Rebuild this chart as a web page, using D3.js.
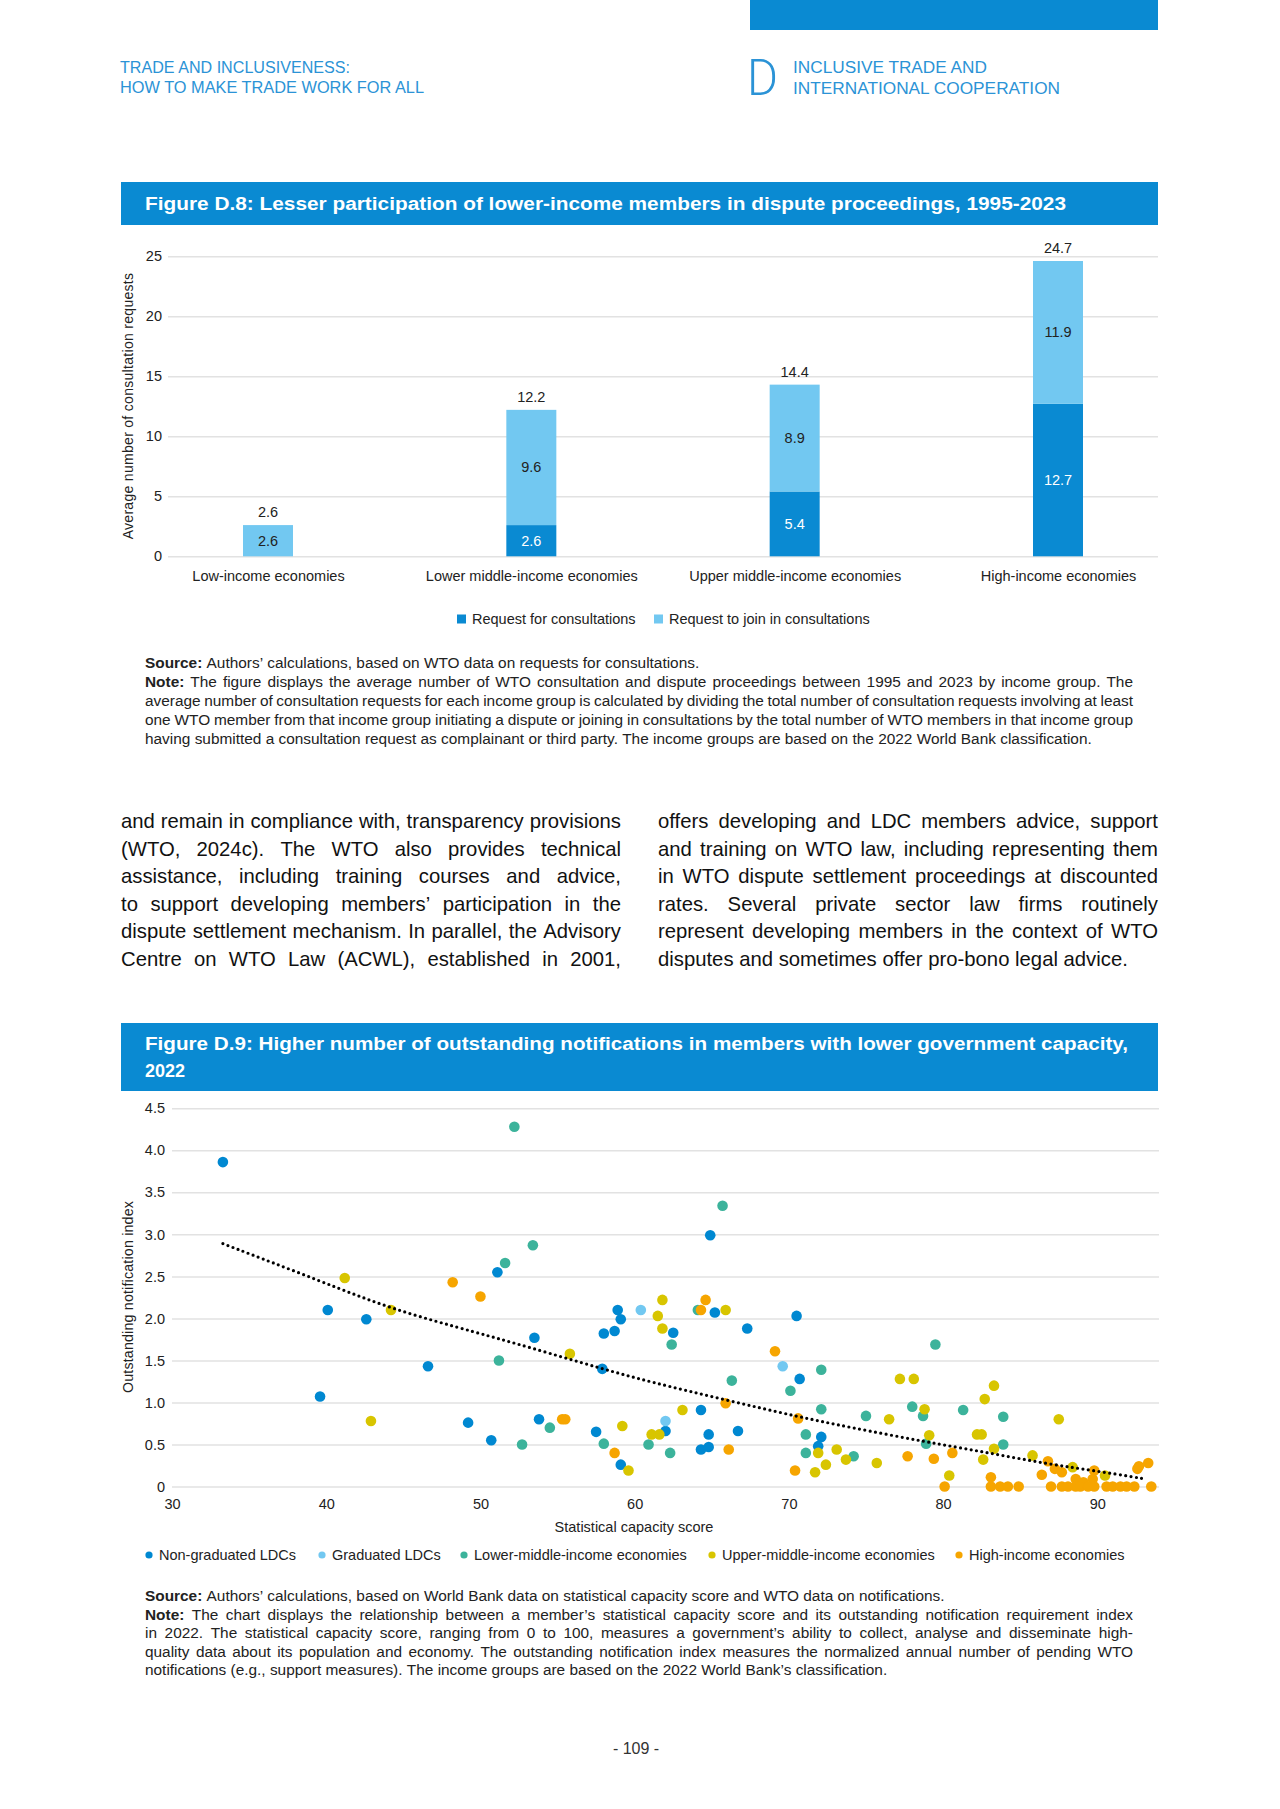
<!DOCTYPE html>
<html><head><meta charset="utf-8">
<script src="https://cdn.jsdelivr.net/npm/d3@7"></script>
<style>
html,body{margin:0;padding:0;background:#fff;}
svg{display:block;font-family:"Liberation Sans",Arial,Helvetica,sans-serif;}
</style></head><body>
<svg id="page" width="1280" height="1809"></svg>
<script>
// ---------------- DATA ----------------
const barCategories = ["Low-income economies","Lower middle-income economies","Upper middle-income economies","High-income economies"];
const barSeriesNames = ["Request for consultations","Request to join in consultations"];
const requestForConsultations = [0, 2.6, 5.4, 12.7];
const requestToJoin = [2.6, 9.6, 8.9, 11.9];
const barTotals = [2.6, 12.2, 14.4, 24.7];
const barYTicks = [0, 5, 10, 15, 20, 25];

const scatterSeriesNames = ["Non-graduated LDCs","Graduated LDCs","Lower-middle-income economies","Upper-middle-income economies","High-income economies"];
const nonGraduatedLDCs = [[33.3,3.86],[51.1,2.55],[40.1,2.10],[42.6,1.99],[53.5,1.77],[58.0,1.82],[58.7,1.85],[58.9,2.10],[59.1,1.99],[46.6,1.43],[57.9,1.40],[39.6,1.07],[49.2,0.76],[53.8,0.80],[50.7,0.55],[57.5,0.65],[59.1,0.26],[64.9,2.99],[62.5,1.83],[65.2,2.07],[67.3,1.88],[70.5,2.03],[70.7,1.28],[64.3,0.91],[62.0,0.66],[64.8,0.62],[64.3,0.44],[64.8,0.47],[66.7,0.66],[72.1,0.59],[71.9,0.48]];
const graduatedLDCs = [[60.4,2.10],[69.6,1.43],[62.0,0.78]];
const lowerMiddleIncome = [[52.2,4.28],[53.4,2.87],[51.6,2.66],[51.2,1.50],[54.5,0.70],[52.7,0.50],[58.0,0.51],[60.9,0.50],[65.7,3.34],[62.4,1.69],[64.1,2.10],[70.1,1.14],[72.1,1.39],[66.3,1.26],[62.3,0.40],[72.1,0.92],[71.1,0.62],[71.1,0.40],[74.2,0.36],[75.0,0.84],[78.0,0.95],[78.7,0.84],[78.9,0.51],[79.5,1.69],[81.3,0.91],[83.9,0.50],[83.9,0.83]];
const upperMiddleIncome = [[41.2,2.48],[44.2,2.10],[55.8,1.58],[42.9,0.78],[59.6,0.19],[59.2,0.72],[61.1,0.62],[61.6,0.62],[61.8,2.22],[61.5,2.03],[61.8,1.88],[65.9,2.10],[63.1,0.91],[71.9,0.40],[71.7,0.17],[72.4,0.26],[73.1,0.44],[73.7,0.32],[75.7,0.28],[76.5,0.80],[77.2,1.28],[78.1,1.28],[78.8,0.92],[79.1,0.61],[80.4,0.13],[82.2,0.62],[82.5,0.62],[82.7,1.04],[83.3,1.20],[82.6,0.32],[83.3,0.45],[85.8,0.37],[87.5,0.80],[88.4,0.23],[90.5,0.13]];
const highIncome = [[48.2,2.43],[50.0,2.26],[55.3,0.80],[55.5,0.80],[58.7,0.40],[64.6,2.22],[64.3,2.10],[69.1,1.61],[65.9,0.99],[66.1,0.44],[70.6,0.81],[70.4,0.19],[77.7,0.36],[79.4,0.33],[80.1,0.00],[80.6,0.40],[83.1,0.11],[83.1,0.00],[83.7,0.00],[84.2,0.00],[84.9,0.00],[86.4,0.14],[86.8,0.30],[87.25,0.21],[87.7,0.17],[88.6,0.09],[89.8,0.19],[89.7,0.09],[89.1,0.05],[87.0,0.00],[87.7,0.00],[88.1,0.00],[88.6,0.00],[88.9,0.00],[89.4,0.00],[89.8,0.00],[90.6,0.00],[91.0,0.00],[91.5,0.00],[91.9,0.00],[92.4,0.00],[92.6,0.21],[92.7,0.24],[93.3,0.28],[93.5,0.00]];
const trendLine = [[33.3,2.89],[39.7,2.44],[44.2,2.11],[50.0,1.82],[53.1,1.66],[57.9,1.40],[61.1,1.24],[65.9,1.03],[70.6,0.83],[73.8,0.71],[78.9,0.53],[82.7,0.41],[86.7,0.27],[90.5,0.17],[93.1,0.09]];
const scatterXTicks = [30, 40, 50, 60, 70, 80, 90];
const scatterYTicks = [0, 0.5, 1.0, 1.5, 2.0, 2.5, 3.0, 3.5, 4.0, 4.5];
const scatterYTickLabels = ["0","0.5","1.0","1.5","2.0","2.5","3.0","3.5","4.0","4.5"];

// ---------------- STYLE ----------------
const BLUE = "#0a8ad2", LIGHT = "#72c8f1", TEXT = "#222";
const scatterColors = ["#0088d1","#72c8f1","#3cb39b","#d8c500","#f6a500"];
const gridColor = "#e2e2e2";
const FS = 14.5;

const svg = d3.select("#page");

// ---------------- helpers ----------------
function drawBlock(lines, just, x0, x1, y0, lh, size, color) {
  let fs = size;
  const t = svg.append("text").attr("fill", color);
  function build() {
    t.selectAll("*").remove();
    t.attr("font-size", fs);
    const rows = lines.map((line, i) => line.split(" ").map((w, j) => {
      const bold = j === 0 && (w === "Source:" || w === "Note:");
      return t.append("tspan").attr("y", y0 + i * lh).attr("font-weight", bold ? "bold" : null).text(w);
    }));
    const tmp = svg.append("text").attr("font-size", fs).text("a a");
    const tmp2 = svg.append("text").attr("font-size", fs).text("aa");
    const sp = tmp.node().getComputedTextLength() - tmp2.node().getComputedTextLength();
    tmp.remove(); tmp2.remove();
    return {rows, sp};
  }
  let b = build();
  let ratio = 1;
  b.rows.forEach((spans, i) => {
    if (!just[i]) return;
    const sum = d3.sum(spans, s => s.node().getComputedTextLength());
    const need = sum + b.sp * 0.8 * (spans.length - 1);
    ratio = Math.min(ratio, (x1 - x0) / need);
  });
  if (ratio < 1) { fs = fs * ratio; b = build(); }
  b.rows.forEach((spans, i) => {
    const widths = spans.map(s => s.node().getComputedTextLength());
    const sum = d3.sum(widths);
    const gap = (just[i] && spans.length > 1) ? (x1 - x0 - sum) / (spans.length - 1) : b.sp;
    let x = x0;
    spans.forEach((s, j) => { s.attr("x", x); x += widths[j] + gap; });
  });
}

// ---------------- HEADER ----------------
svg.append("rect").attr("x", 750).attr("y", 0).attr("width", 408).attr("height", 30).attr("fill", BLUE);
const hdrColor = "#2b93d6";
[["TRADE AND INCLUSIVENESS:", 120, 73, 230], ["HOW TO MAKE TRADE WORK FOR ALL", 120, 93, 304],
 ["INCLUSIVE TRADE AND", 793, 73, 194], ["INTERNATIONAL COOPERATION", 793, 94, 267]].forEach(d => {
  svg.append("text").attr("x", d[1]).attr("y", d[2]).attr("font-size", 16).attr("fill", hdrColor)
    .attr("textLength", d[3]).attr("lengthAdjust", "spacingAndGlyphs").text(d[0]);
});
svg.append("text").attr("x", 747).attr("y", 95).attr("font-size", 50).attr("fill", hdrColor)
  .attr("font-family", "Roboto, 'Liberation Sans', sans-serif").attr("font-weight", 300)
  .attr("textLength", 31).attr("lengthAdjust", "spacingAndGlyphs").text("D");

// ---------------- FIGURE D.8 ----------------
svg.append("rect").attr("x", 121).attr("y", 182).attr("width", 1037).attr("height", 43).attr("fill", BLUE);
svg.append("text").attr("x", 145).attr("y", 210).attr("font-size", 18).attr("font-weight", "bold").attr("fill", "#fff")
  .attr("textLength", 921).attr("lengthAdjust", "spacingAndGlyphs")
  .text("Figure D.8: Lesser participation of lower-income members in dispute proceedings, 1995-2023");

const by = d3.scaleLinear().domain([0, 25]).range([556.3, 256.2]);
const bx = d3.scalePoint().domain(barCategories).range([268, 1058]);
const barW = 50;
const gB = svg.append("g");
const gy = gB.append("g").attr("transform", "translate(1158,0)").call(d3.axisLeft(by).tickValues(barYTicks).tickSize(990).tickFormat(""));
gy.select(".domain").remove();
gy.selectAll(".tick line").attr("stroke", gridColor).attr("stroke-width", 1.5);
const gyl = gB.append("g").attr("transform", "translate(168,0)").call(d3.axisLeft(by).tickValues(barYTicks).tickSize(0).tickPadding(6).tickFormat(d3.format("d")));
gyl.select(".domain").remove();
gyl.selectAll("text").attr("font-size", FS).attr("fill", TEXT).attr("font-family", "inherit");

const stackData = barCategories.map((c, i) => ({cat: c, a: requestForConsultations[i], b: requestToJoin[i], total: barTotals[i]}));
gB.selectAll(".segA").data(stackData).join("rect")
  .attr("x", d => bx(d.cat) - barW / 2).attr("width", barW)
  .attr("y", d => by(d.a)).attr("height", d => by(0) - by(d.a)).attr("fill", BLUE);
gB.selectAll(".segB").data(stackData).join("rect")
  .attr("x", d => bx(d.cat) - barW / 2).attr("width", barW)
  .attr("y", d => by(d.a + d.b)).attr("height", d => by(d.a) - by(d.a + d.b)).attr("fill", LIGHT);
gB.selectAll(".labA").data(stackData.filter(d => d.a > 0)).join("text")
  .attr("x", d => bx(d.cat)).attr("y", d => by(d.a / 2) + 5).attr("text-anchor", "middle")
  .attr("font-size", FS).attr("fill", "#fff").text(d => d.a.toFixed(1));
gB.selectAll(".labB").data(stackData).join("text")
  .attr("x", d => bx(d.cat)).attr("y", d => by(d.a + d.b / 2) + 5).attr("text-anchor", "middle")
  .attr("font-size", FS).attr("fill", TEXT).text(d => d.b.toFixed(1));
gB.selectAll(".labT").data(stackData).join("text")
  .attr("x", d => bx(d.cat)).attr("y", d => by(d.a + d.b) - 8).attr("text-anchor", "middle")
  .attr("font-size", FS).attr("fill", TEXT).text(d => d.total.toFixed(1));
const gx = gB.append("g").attr("transform", "translate(0,566)").call(d3.axisBottom(bx).tickSize(0).tickPadding(0));
gx.select(".domain").remove();
gx.selectAll("text").attr("font-size", FS).attr("fill", TEXT).attr("font-family", "inherit").attr("dy", "1em");
svg.append("text").attr("transform", "translate(133,406) rotate(-90)").attr("text-anchor", "middle")
  .attr("font-size", 14).attr("fill", TEXT).attr("letter-spacing", 0.3).text("Average number of consultation requests");

// legend D.8
const legB = [[457, BLUE, barSeriesNames[0]], [654, LIGHT, barSeriesNames[1]]];
legB.forEach(d => {
  svg.append("rect").attr("x", d[0]).attr("y", 614.5).attr("width", 9).attr("height", 9).attr("fill", d[1]);
  svg.append("text").attr("x", d[0] + 15).attr("y", 624).attr("font-size", FS).attr("fill", TEXT).text(d[2]);
});

drawBlock([
  "Source: Authors’ calculations, based on WTO data on requests for consultations.",
  "Note: The figure displays the average number of WTO consultation and dispute proceedings between 1995 and 2023 by income group. The",
  "average number of consultation requests for each income group is calculated by dividing the total number of consultation requests involving at least",
  "one WTO member from that income group initiating a dispute or joining in consultations by the total number of WTO members in that income group",
  "having submitted a consultation request as complainant or third party. The income groups are based on the 2022 World Bank classification."
], [false, true, true, true, false], 145, 1133, 668, 19.1, 15.4, TEXT);

// ---------------- BODY TEXT ----------------
drawBlock([
  "and remain in compliance with, transparency provisions",
  "(WTO, 2024c). The WTO also provides technical",
  "assistance, including training courses and advice,",
  "to support developing members’ participation in the",
  "dispute settlement mechanism. In parallel, the Advisory",
  "Centre on WTO Law (ACWL), established in 2001,"
], [true, true, true, true, true, true], 121, 621, 828, 27.6, 20.3, "#111");
drawBlock([
  "offers developing and LDC members advice, support",
  "and training on WTO law, including representing them",
  "in WTO dispute settlement proceedings at discounted",
  "rates. Several private sector law firms routinely",
  "represent developing members in the context of WTO",
  "disputes and sometimes offer pro-bono legal advice."
], [true, true, true, true, true, false], 658, 1158, 828, 27.6, 20.3, "#111");

// ---------------- FIGURE D.9 ----------------
svg.append("rect").attr("x", 121).attr("y", 1023).attr("width", 1037).attr("height", 68).attr("fill", BLUE);
svg.append("text").attr("x", 145).attr("y", 1050).attr("font-size", 18).attr("font-weight", "bold").attr("fill", "#fff")
  .attr("textLength", 983).attr("lengthAdjust", "spacingAndGlyphs")
  .text("Figure D.9: Higher number of outstanding notifications in members with lower government capacity,");
svg.append("text").attr("x", 145).attr("y", 1077).attr("font-size", 18).attr("font-weight", "bold").attr("fill", "#fff").text("2022");

const sx = d3.scaleLinear().domain([30, 94]).range([172, 1159]);
const sy = d3.scaleLinear().domain([0, 4.5]).range([1486.5, 1108.3]);
const gS = svg.append("g");
const sg = gS.append("g").attr("transform", "translate(1159,0)").call(d3.axisLeft(sy).tickValues(scatterYTicks).tickSize(987).tickFormat(""));
sg.select(".domain").remove();
sg.selectAll(".tick line").attr("stroke", gridColor).attr("stroke-width", 1.5);
const syl = gS.append("g").attr("transform", "translate(172,0)").call(d3.axisLeft(sy).tickValues(scatterYTicks).tickSize(0).tickPadding(7).tickFormat((d, i) => scatterYTickLabels[i]));
syl.select(".domain").remove();
syl.selectAll("text").attr("font-size", FS).attr("fill", TEXT).attr("font-family", "inherit");
const sxl = gS.append("g").attr("transform", "translate(0,1496)").call(d3.axisBottom(sx).tickValues(scatterXTicks).tickSize(0).tickPadding(0).tickFormat(d3.format("d")));
sxl.select(".domain").remove();
sxl.selectAll("text").attr("font-size", FS).attr("fill", TEXT).attr("font-family", "inherit").attr("dy", "0.9em");
svg.append("text").attr("x", 634).attr("y", 1532).attr("text-anchor", "middle").attr("font-size", FS).attr("fill", TEXT).text("Statistical capacity score");
svg.append("text").attr("transform", "translate(133,1297) rotate(-90)").attr("text-anchor", "middle")
  .attr("font-size", 14.2).attr("fill", TEXT).attr("letter-spacing", 0.2).text("Outstanding notification index");

const groups = [nonGraduatedLDCs, graduatedLDCs, lowerMiddleIncome, upperMiddleIncome, highIncome];
groups.forEach((pts, gi) => {
  gS.append("g").selectAll("circle").data(pts).join("circle")
    .attr("cx", d => sx(d[0])).attr("cy", d => sy(d[1])).attr("r", 5.3).attr("fill", scatterColors[gi]);
});
gS.append("path").datum(trendLine)
  .attr("d", d3.line().x(d => sx(d[0])).y(d => sy(d[1])).curve(d3.curveBasis))
  .attr("fill", "none").attr("stroke", "#000").attr("stroke-width", 3.2)
  .attr("stroke-linecap", "round").attr("stroke-dasharray", "0,5.4");

// legend D.9
const legX = [149, 322, 464, 712, 959];
scatterSeriesNames.forEach((n, i) => {
  svg.append("circle").attr("cx", legX[i]).attr("cy", 1555).attr("r", 3.6).attr("fill", scatterColors[i]);
  svg.append("text").attr("x", legX[i] + 10).attr("y", 1560).attr("font-size", FS).attr("fill", TEXT).text(n);
});

drawBlock([
  "Source: Authors’ calculations, based on World Bank data on statistical capacity score and WTO data on notifications.",
  "Note: The chart displays the relationship between a member’s statistical capacity score and its outstanding notification requirement index",
  "in 2022. The statistical capacity score, ranging from 0 to 100, measures a government’s ability to collect, analyse and disseminate high-",
  "quality data about its population and economy. The outstanding notification index measures the normalized annual number of pending WTO",
  "notifications (e.g., support measures). The income groups are based on the 2022 World Bank’s classification."
], [false, true, true, true, false], 145, 1133, 1601, 18.5, 15.4, TEXT);

// page number
svg.append("text").attr("x", 636).attr("y", 1754).attr("text-anchor", "middle").attr("font-size", 16).attr("fill", "#333").text("- 109 -");
</script>
</body></html>
